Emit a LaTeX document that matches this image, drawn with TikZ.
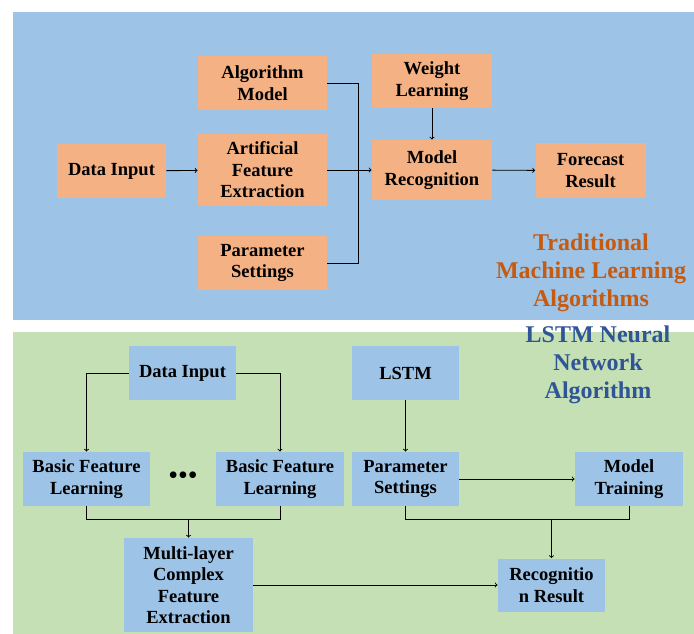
\documentclass[tikz,border=0pt]{standalone}
\usepackage{fontspec}
\setmainfont{Liberation Serif}
\definecolor{panelblue}{HTML}{9DC3E6}
\definecolor{panelgreen}{HTML}{C5E0B4}
\definecolor{boxorange}{HTML}{F4B183}
\definecolor{titleorange}{HTML}{C55A11}
\definecolor{titleblue}{HTML}{2F5597}
\begin{document}
\begin{tikzpicture}[x=1pt,y=-1pt,line width=0.9pt,
    box/.style={inner sep=0pt,align=center,font=\bfseries\fontsize{18.5}{21.5}\selectfont},
    obox/.style={box,fill=boxorange},
    bbox/.style={box,fill=panelblue},
    heading/.style={align=center,font=\bfseries\fontsize{24}{28}\selectfont}]
  \useasboundingbox (0,0) rectangle (694,634);
  \fill[panelblue] (13,12) rectangle (694,320);
  \fill[panelgreen] (13,332) rectangle (694,634);
  % traditional machine learning
  \draw
    (111.5,171) node[obox,minimum width=109,minimum height=54] (din){Data Input}
    (262.5,83) node[obox,minimum width=129,minimum height=54] (alg){Algorithm\\Model}
    (262.5,170) node[obox,minimum width=129,minimum height=72] (afe){Artificial\\Feature\\Extraction}
    (262.5,263) node[obox,minimum width=129,minimum height=54] (par){Parameter\\Settings}
    (432,81) node[obox,minimum width=120,minimum height=54] (wl){Weight\\Learning}
    (432,170) node[obox,minimum width=120,minimum height=60] (mrec){Model\\Recognition}
    (590.5,170.5) node[obox,minimum width=110,minimum height=55] (fr){Forecast\\Result}
    (591,273) node[heading,text=titleorange] (tml){Traditional\\Machine Learning\\Algorithms};
  \coordinate (j1) at (358,170);
  \begin{scope}[-]
    \draw (alg.east) -| (j1);
    \draw (j1) |- (par.east);
  \end{scope}
  \begin{scope}[->]
    \draw (din) to (afe);
    \draw (afe) to (mrec);
    \draw (wl) to (mrec);
    \draw (mrec) to (fr);
  \end{scope}
  % lstm neural network
  \draw
    (182.5,373) node[bbox,minimum width=107,minimum height=54] (din2){Data Input}
    (405.5,373) node[bbox,minimum width=107,minimum height=54] (lstm){LSTM}
    (86.5,479) node[bbox,minimum width=127,minimum height=54] (bfl1){Basic Feature\\Learning}
    (280,479) node[bbox,minimum width=128,minimum height=54] (bfl2){Basic Feature\\Learning}
    (183,478) node[font=\fontsize{28}{28}\selectfont] (dots){•••}
    (405.5,479) node[bbox,minimum width=107,minimum height=54] (ps){Parameter\\Settings}
    (629,479) node[bbox,minimum width=108,minimum height=54] (mt){Model\\Training}
    (188.5,585) node[bbox,minimum width=129,minimum height=94] (mcfe){Multi-layer\\Complex\\Feature\\Extraction}
    (551.5,585) node[bbox,minimum width=107,minimum height=53] (rr){Recognitio\\n Result}
    (598,365) node[heading,text=titleblue] (lnn){LSTM Neural\\Network\\Algorithm};
  \coordinate (j2) at (188.5,519);
  \coordinate (j3) at (551.5,519);
  \begin{scope}[-]
    \draw (bfl1.south) |- (j2);
    \draw (j2) -| (bfl2.south);
    \draw (ps.south) |- (j3);
    \draw (j3) -| (mt.south);
  \end{scope}
  \begin{scope}[->]
    \draw (din2.west) -| (bfl1.north);
    \draw (din2.east) -| (bfl2.north);
    \draw (j2) to (mcfe);
    \draw (lstm) to (ps);
    \draw (ps) to (mt);
    \draw (j3) to (rr);
    \draw (mcfe) to (rr);
  \end{scope}
\end{tikzpicture}
\end{document}
